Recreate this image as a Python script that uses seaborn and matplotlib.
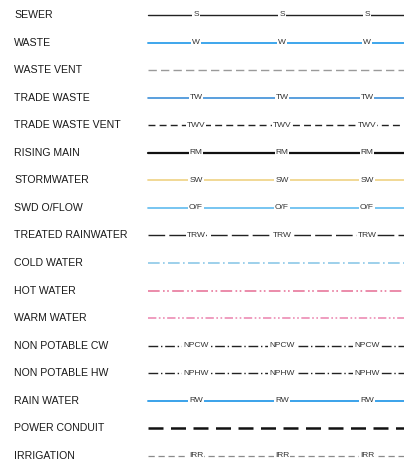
import matplotlib
matplotlib.use("Agg")
import matplotlib.pyplot as plt
import seaborn as sns
import pandas as pd

names = ["SEWER", "WASTE", "WASTE VENT", "TRADE WASTE", "TRADE WASTE VENT",
         "RISING MAIN", "STORMWATER", "SWD O/FLOW", "TREATED RAINWATER",
         "COLD WATER", "HOT WATER", "WARM WATER", "NON POTABLE CW",
         "NON POTABLE HW", "RAIN WATER", "POWER CONDUIT", "IRRIGATION"]
codes = ["S", "W", "", "TW", "TWV", "RM", "SW", "O/F", "TRW",
         "", "", "", "NPCW", "NPHW", "RW", "", "IRR"]
colors = ["#222222", "#3ea6ec", "#9a9a9a", "#3d8fd8", "#222222",
          "#111111", "#f0d58c", "#6cc0f0", "#222222",
          "#8cc8e8", "#e8789c", "#ec8cb4", "#222222",
          "#222222", "#3aa2ea", "#111111", "#8a8a8a"]
styles = ["-", "-", (0, (6, 3)), "-", (0, (5, 3)),
          "-", "-", "-", (0, (12, 3)),
          (0, (7, 2, 1, 2)), (0, (7, 2, 1, 1.5, 1, 2)), (0, (5, 1.5, 1, 1.5, 1, 1.5)), (0, (7, 2, 1, 2)),
          (0, (7, 2, 1, 2)), "-", (0, (6, 3)), (0, (5, 3))]
widths = [1.0, 1.4, 1.0, 1.2, 1.0, 1.6, 1.3, 1.3, 1.0,
          1.2, 1.2, 1.2, 1.0, 1.0, 1.4, 1.8, 0.9]

line_x = [148, 404]
code_x = [196, 282, 367]

sns.set_style("white")
plt.rcParams["font.family"] = ["Liberation Sans", "DejaVu Sans"]

fig = plt.figure(figsize=(4.04, 4.70), dpi=100)
ax = fig.add_axes([0, 0, 1, 1])

for i, name in enumerate(names):
    y = 15 + i * 27.55
    df = pd.DataFrame({"x": line_x, "y": [y, y]})
    sns.lineplot(data=df, x="x", y="y", ax=ax, color=colors[i],
                 linestyle=styles[i], linewidth=widths[i])
    ax.text(14, y, name, fontsize=7.6, va="center", ha="left", color="#1a1a1a")
    if codes[i]:
        for cx in code_x:
            ax.text(cx, y, codes[i], fontsize=6, va="center", ha="center",
                    color="#333333",
                    bbox=dict(facecolor="white", edgecolor="none", pad=0.6))

ax.set_xlim(0, 404)
ax.set_ylim(470, 0)
ax.axis("off")
fig.savefig("out.png", dpi=100)
